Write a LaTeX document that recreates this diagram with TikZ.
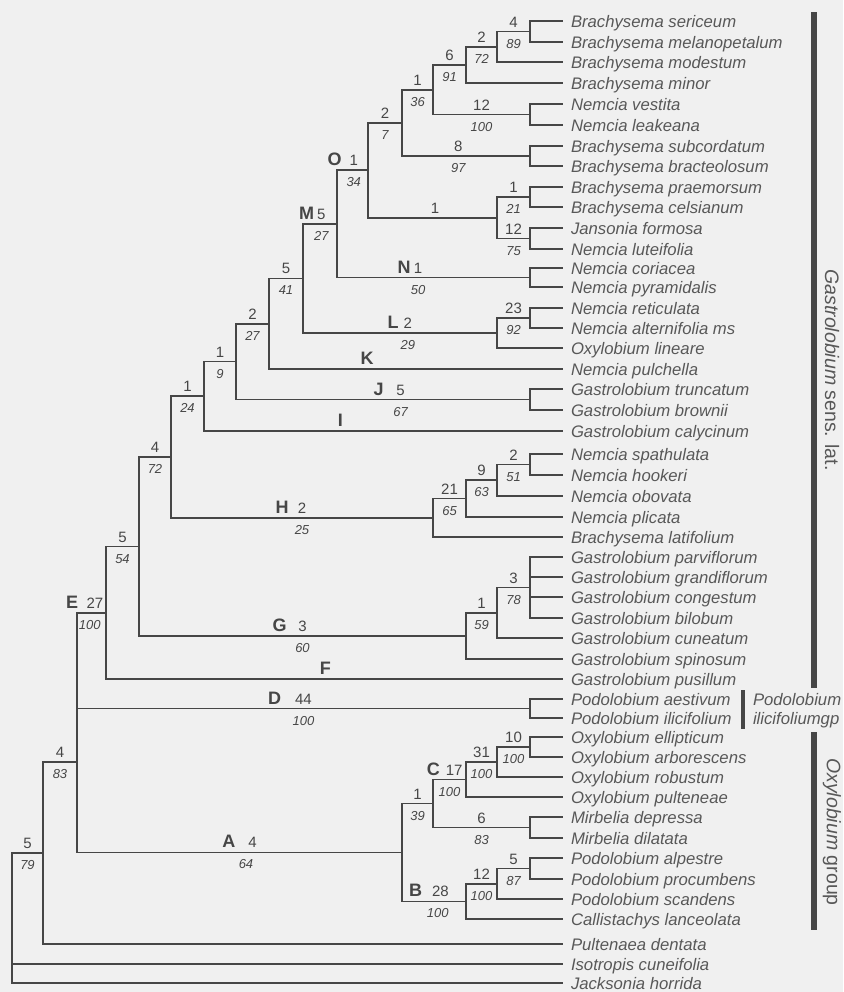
\documentclass[tikz,border=0pt]{standalone}
\usepackage{fontspec}
\setmainfont{Liberation Sans}
\definecolor{bg}{RGB}{240,240,240}
\definecolor{ink}{RGB}{70,70,70}
\definecolor{leafink}{RGB}{88,88,88}
\newcommand\cletter[2][4pt]{\llap{\fontsize{9}{9}\selectfont\bfseries #2\hspace{#1}}}

\begin{document}
\begin{tikzpicture}[x=0.5pt,y=-0.5pt,
  every edge/.style={draw=ink,line width=0.85pt,to path={|- (\tikztotarget) \tikztonodes}},
  leaf/.style={anchor=west,inner xsep=4pt,inner ysep=0pt,outer sep=0pt,text height=6pt,text depth=0pt,
    text=leafink,font=\fontsize{8.35}{10}\selectfont\itshape},
  nstep/.style={pos=.75,anchor=base,yshift=2.25pt,inner sep=0pt,text=ink,font=\fontsize{7.5}{8}\selectfont},
  nboot/.style={pos=.75,anchor=base,yshift=-8.25pt,inner sep=0pt,text=ink,font=\fontsize{6.5}{7}\selectfont\itshape},
  nlet/.style={anchor=base,yshift=2.25pt,inner sep=0pt,text=ink,font=\fontsize{9}{9}\selectfont\bfseries},
  bar/.style={draw=ink,line width=2.6pt},
  grp/.style={text=leafink,font=\fontsize{9.75}{11}\selectfont}]
  \fill[bg] (0,0) rectangle (843,992);
  \useasboundingbox (0,0) rectangle (843,992);

  % taxa
  \node[leaf] (1) at (563,21) {Brachysema sericeum};
  \node[leaf] (2) at (563,42) {Brachysema melanopetalum};
  \node[leaf] (3) at (563,62) {Brachysema modestum};
  \node[leaf] (4) at (563,83) {Brachysema minor};
  \node[leaf] (5) at (563,104) {Nemcia vestita};
  \node[leaf] (6) at (563,125) {Nemcia leakeana};
  \node[leaf] (7) at (563,146) {Brachysema subcordatum};
  \node[leaf] (8) at (563,166) {Brachysema bracteolosum};
  \node[leaf] (9) at (563,187) {Brachysema praemorsum};
  \node[leaf] (10) at (563,207) {Brachysema celsianum};
  \node[leaf] (11) at (563,228) {Jansonia formosa};
  \node[leaf] (12) at (563,249) {Nemcia luteifolia};
  \node[leaf] (13) at (563,268) {Nemcia coriacea};
  \node[leaf] (14) at (563,287) {Nemcia pyramidalis};
  \node[leaf] (15) at (563,308) {Nemcia reticulata};
  \node[leaf] (16) at (563,328) {Nemcia alternifolia ms};
  \node[leaf] (17) at (563,348) {Oxylobium lineare};
  \node[leaf] (18) at (563,369) {Nemcia pulchella};
  \node[leaf] (19) at (563,389) {Gastrolobium truncatum};
  \node[leaf] (20) at (563,410) {Gastrolobium brownii};
  \node[leaf] (21) at (563,431) {Gastrolobium calycinum};
  \node[leaf] (22) at (563,454) {Nemcia spathulata};
  \node[leaf] (23) at (563,475) {Nemcia hookeri};
  \node[leaf] (24) at (563,496) {Nemcia obovata};
  \node[leaf] (25) at (563,517) {Nemcia plicata};
  \node[leaf] (26) at (563,537) {Brachysema latifolium};
  \node[leaf] (27) at (563,557) {Gastrolobium parviflorum};
  \node[leaf] (28) at (563,577) {Gastrolobium grandiflorum};
  \node[leaf] (29) at (563,597) {Gastrolobium congestum};
  \node[leaf] (30) at (563,618) {Gastrolobium bilobum};
  \node[leaf] (31) at (563,638) {Gastrolobium cuneatum};
  \node[leaf] (32) at (563,659) {Gastrolobium spinosum};
  \node[leaf] (33) at (563,679) {Gastrolobium pusillum};
  \node[leaf] (34) at (563,699) {Podolobium aestivum};
  \node[leaf] (35) at (563,718) {Podolobium ilicifolium};
  \node[leaf] (36) at (563,737) {Oxylobium ellipticum};
  \node[leaf] (37) at (563,757) {Oxylobium arborescens};
  \node[leaf] (38) at (563,777) {Oxylobium robustum};
  \node[leaf] (39) at (563,797) {Oxylobium pulteneae};
  \node[leaf] (40) at (563,817) {Mirbelia depressa};
  \node[leaf] (41) at (563,838) {Mirbelia dilatata};
  \node[leaf] (42) at (563,858) {Podolobium alpestre};
  \node[leaf] (43) at (563,879) {Podolobium procumbens};
  \node[leaf] (44) at (563,899) {Podolobium scandens};
  \node[leaf] (45) at (563,919) {Callistachys lanceolata};
  \node[leaf] (46) at (563,944) {Pultenaea dentata};
  \node[leaf] (47) at (563,964) {Isotropis cuneifolia};
  \node[leaf] (48) at (563,983) {Jacksonia horrida};

  % clades
  \coordinate (a1) at (530,31.5);
  \coordinate (a2) at (497,46.75);
  \coordinate (a3) at (466,64.9);
  \coordinate (a4) at (530,114.5);
  \coordinate (a5) at (433,89.7);
  \coordinate (a6) at (530,156);
  \coordinate (a7) at (402,122.85);
  \coordinate (a8) at (530,197);
  \coordinate (a9) at (530,238.5);
  \coordinate (a10) at (497,217.75);
  \coordinate (O) at (368,170.3);
  \coordinate (N) at (530,277.5);
  \coordinate (M) at (337,223.9);
  \coordinate (a14) at (530,318);
  \coordinate (L) at (497,333);
  \coordinate (a16) at (303,278.45);
  \coordinate (a17) at (269,323.7);
  \coordinate (J) at (530,399.5);
  \coordinate (a19) at (236,361.6);
  \coordinate (a20) at (204,396.3);
  \coordinate (a21) at (530,464.5);
  \coordinate (a22) at (497,480.25);
  \coordinate (a23) at (466,498.6);
  \coordinate (H) at (433,517.8);
  \coordinate (a25) at (171,457);
  \coordinate (a26) at (530,587.5);
  \coordinate (a27) at (497,612.75);
  \coordinate (G) at (466,635.9);
  \coordinate (a29) at (139,546.5);
  \coordinate (E) at (106,612.75);
  \coordinate (D) at (530,708.5);
  \coordinate (a32) at (530,747);
  \coordinate (a33) at (497,762);
  \coordinate (C) at (466,779.5);
  \coordinate (a35) at (530,827.5);
  \coordinate (a36) at (433,803.5);
  \coordinate (a37) at (530,868.5);
  \coordinate (a38) at (497,883.75);
  \coordinate (B) at (466,901.4);
  \coordinate (A) at (402,852.45);
  \coordinate (a41) at (77,762);
  \coordinate (a42) at (43,853);
  \coordinate (a43) at (12,918);

  \path
    (a1) edge (1) edge (2)
    (a2) edge node[nstep]{4} node[nboot]{89} (a1) edge (3)
    (a3) edge node[nstep]{2} node[nboot]{72} (a2) edge (4)
    (a4) edge (5) edge (6)
    (a5) edge node[nstep]{6} node[nboot]{91} (a3)
         edge node[nstep]{12} node[nboot]{100} (a4)
    (a6) edge (7) edge (8)
    (a7) edge node[nstep]{1} node[nboot]{36} (a5)
         edge node[nstep,pos=.72]{8} node[nboot,pos=.72]{97} (a6)
    (a8) edge (9) edge (10)
    (a9) edge (11) edge (12)
    (a10) edge node[nstep]{1} node[nboot]{21} (a8)
          edge node[nstep]{12} node[nboot]{75} (a9)
    (O) edge node[nstep]{2} node[nboot]{7} (a7)
        edge node[nstep,pos=.76]{1} (a10)
    (N) edge (13) edge (14)
    (M) edge node[nstep,pos=.77]{\cletter[4pt]{O}1} node[nboot,pos=.77]{34} (O)
        edge node[nstep,pos=.71]{\cletter[1.6pt]{N}1} node[nboot,pos=.71]{50} (N)
    (a14) edge (15) edge (16)
    (L) edge node[nstep]{23} node[nboot]{92} (a14) edge (17)
    (a16) edge node[nstep,pos=.77]{\cletter[1.5pt]{M}5} node[nboot,pos=.77]{27} (M)
          edge node[nstep,pos=.77]{\cletter[2.5pt]{L}2} node[nboot,pos=.77]{29} (L)
    (a17) edge node[nstep]{5} node[nboot]{41} (a16)
          edge node[nlet,pos=.667]{K} (18)
    (J) edge (19) edge (20)
    (a19) edge node[nstep]{2} node[nboot]{27} (a17)
          edge node[nstep,pos=.78]{\cletter[6.4pt]{J}5} node[nboot,pos=.78]{67} (J)
    (a20) edge node[nstep]{1} node[nboot]{9} (a19)
          edge node[nlet,pos=.69]{I} (21)
    (a21) edge (22) edge (23)
    (a22) edge node[nstep]{2} node[nboot]{51} (a21) edge (24)
    (a23) edge node[nstep]{9} node[nboot]{63} (a22) edge (25)
    (H) edge node[nstep]{21} node[nboot]{65} (a23) edge (26)
    (a25) edge node[nstep]{1} node[nboot]{24} (a20)
          edge node[nstep]{\cletter[4.6pt]{H}2} node[nboot]{25} (H)
    (a26) edge (27) edge (28) edge (29) edge (30)
    (a27) edge node[nstep]{3} node[nboot]{78} (a26) edge (31)
    (G) edge node[nstep]{1} node[nboot]{59} (a27) edge (32)
    (a29) edge node[nstep]{4} node[nboot]{72} (a25)
          edge node[nstep]{\cletter[5.9pt]{G}3} node[nboot]{60} (G)
    (E) edge node[nstep]{5} node[nboot]{54} (a29)
        edge node[nlet,pos=.74]{F} (33)
    (D) edge (34) edge (35)
    (a32) edge (36) edge (37)
    (a33) edge node[nstep]{10} node[nboot]{100} (a32) edge (38)
    (C) edge node[nstep]{31} node[nboot]{100} (a33) edge (39)
    (a35) edge (40) edge (41)
    (a36) edge node[nstep,pos=.82]{\cletter[3pt]{C}17} node[nboot]{100} (C)
          edge node[nstep]{6} node[nboot]{83} (a35)
    (a37) edge (42) edge (43)
    (a38) edge node[nstep]{5} node[nboot]{87} (a37) edge (44)
    (B) edge node[nstep]{12} node[nboot]{100} (a38) edge (45)
    (A) edge node[nstep]{1} node[nboot]{39} (a36)
        edge node[nstep,pos=.8]{\cletter[5pt]{B}28} node[nboot,pos=.78]{100} (B)
    (a41) edge node[nstep,pos=.81]{\cletter[4.3pt]{E}27} node[nboot,pos=.72]{100} (E)
          edge node[nstep]{\cletter[7pt]{D}44} node[nboot]{100} (D)
          edge node[nstep,pos=.77]{\cletter[6.5pt]{A}4} node[nboot,pos=.76]{64} (A)
    (a42) edge node[nstep]{4} node[nboot]{83} (a41) edge (46)
    (a43) edge node[nstep]{5} node[nboot]{79} (a42) edge (47) edge (48);

  % groups
  \draw[bar] (814,12) -- (814,688);
  \draw[bar] (814,732) -- (814,930);
  \draw[bar,line width=2.2pt] (743,690) -- (743,729);
  \node[grp,rotate=-90] (gsl) at (832,370) {\textit{Gastrolobium} sens. lat.};
  \node[grp,rotate=-90] (oxg) at (832,832) {\textit{Oxylobium} group};
  \node[leaf] (pig1) at (745,699) {Podolobium};
  \node[leaf] (pig2) at (745,718) {ilicifoliumgp};
\end{tikzpicture}
\end{document}
